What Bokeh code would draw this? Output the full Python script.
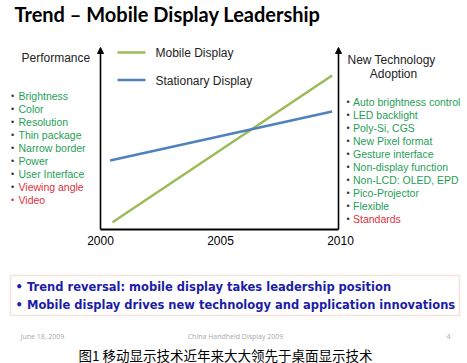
from bokeh.plotting import figure
from bokeh.models import Range1d, Label, Arrow, NormalHead, BoxAnnotation
from bokeh.core.properties import value
from bokeh.embed import file_html
from bokeh.resources import INLINE

# ---- data ----
years = [2000, 2005, 2010]
mobile_x = [2000.5, 2009.65]
mobile_y = [0.4, 8.56]
stationary_x = [2000.4, 2009.65]
stationary_y = [3.83, 6.56]
left_items = ["Brightness", "Color", "Resolution", "Thin package", "Narrow border",
              "Power", "User Interface", "Viewing angle", "Video"]
left_colors = ["green"] * 7 + ["red"] * 2
right_items = ["Auto brightness control", "LED backlight", "Poly-Si, CGS",
               "New Pixel format", "Gesture interface", "Non-display function",
               "Non-LCD: OLED, EPD", "Pico-Projector", "Flexible", "Standards"]
right_colors = ["green"] * 9 + ["red"]
title = "Trend \u2013 Mobile Display Leadership"
notes = ["Trend reversal: mobile display takes leadership position",
         "Mobile display drives new technology and application innovations"]
caption = "图1 移动显示技术近年来大大领先于桌面显示技术"

GREEN_LINE = "#9bbb59"
BLUE_LINE = "#4f81bd"
GREEN_TXT = "#1f9e57"
RED_TXT = "#e03040"
PAL = {"green": GREEN_TXT, "red": RED_TXT}

W, H = 467, 363
PX_PER_YEAR = 24.0
PX_PER_UNIT = 18.0
X0_PX = 100   # canvas x of year 2000
Y0_PX = 229   # canvas y (from top) of value 0

x_start = 2000 - X0_PX / PX_PER_YEAR
x_end = x_start + W / PX_PER_YEAR
y_end = Y0_PX / PX_PER_UNIT
y_start = y_end - H / PX_PER_UNIT


def fx(rx):
    return x_start + rx / PX_PER_YEAR


def fy(ry):
    return y_end - ry / PX_PER_UNIT


p = figure(width=W, height=H, output_backend="svg", toolbar_location=None,
           x_range=Range1d(x_start, x_end), y_range=Range1d(y_start, y_end),
           min_border=0, min_border_left=0, min_border_right=0,
           min_border_top=0, min_border_bottom=0)
p.axis.visible = False
p.grid.visible = False
p.outline_line_color = None
p.background_fill_color = "white"
p.border_fill_color = "white"

ARIAL = "Liberation Sans"


def label(rx, ry, text, size, color="black", font=ARIAL, style="normal",
          align="left", baseline="middle"):
    p.add_layout(Label(x=fx(rx), y=fy(ry), text=text, text_font=font,
                       text_font_size=f"{size}px", text_color=color,
                       text_font_style=style, text_align=align,
                       text_baseline=baseline))


# title
label(14, 13, title, 20, font="Lato", style="bold")

# axes with arrows
axis_bottom = fy(229)
p.segment(x0=[fx(100)], y0=[axis_bottom], x1=[fx(338)], y1=[axis_bottom],
          line_color="black", line_width=2)
for ax in [100, 338]:
    p.add_layout(Arrow(end=NormalHead(size=6, fill_color="black", line_color="black"),
                       x_start=fx(ax), y_start=axis_bottom, x_end=fx(ax), y_end=fy(47),
                       line_color="black", line_width=1.6))

# year labels
p.text(x=years, y=[fy(240)] * len(years), text=[str(y) for y in years],
       text_font=value(ARIAL), text_font_size="12px", text_align="center",
       text_baseline="middle", text_color="black")

# lines
p.line(mobile_x, mobile_y, line_color=GREEN_LINE, line_width=2.5)
p.line(stationary_x, stationary_y, line_color=BLUE_LINE, line_width=2.5)

# legend
p.segment(x0=[fx(117)], y0=[fy(52)], x1=[fx(145)], y1=[fy(52)],
          line_color=GREEN_LINE, line_width=2.5)
p.segment(x0=[fx(117)], y0=[fy(79.5)], x1=[fx(145)], y1=[fy(79.5)],
          line_color=BLUE_LINE, line_width=2.5)
label(155, 52, "Mobile Display", 12, color="#222222")
label(155, 80, "Stationary Display", 12, color="#222222")

# left side
label(21, 57, "Performance", 12, color="#222222")
for i, (t, c) in enumerate(zip(left_items, left_colors)):
    yy = 95 + 13 * i
    label(10.5, yy, "\u2022", 9, color="#333333" if i < 8 else RED_TXT)
    label(18, yy, t, 10.5, color=PAL[c])

# right side
label(391, 59, "New Technology", 12, color="#222222", align="center")
label(393, 73, "Adoption", 12, color="#222222", align="center")
for i, (t, c) in enumerate(zip(right_items, right_colors)):
    yy = 101 + 13.05 * i
    label(346, yy, "\u2022", 9, color="#333333")
    label(352.5, yy, t, 10.5, color=PAL[c])

# notes box
p.add_layout(BoxAnnotation(left=fx(10), right=fx(459), top=fy(275), bottom=fy(315),
                           fill_color=None, line_color="#e2a08c", line_width=1.5))
for i, t in enumerate(notes):
    yy = 286.5 + 17.7 * i
    label(15, yy, "\u2022", 11.5, color="#1c1ca8", font="DejaVu Sans", style="bold")
    label(26.5, yy, t, 11.5, color="#1c1ca8", font="DejaVu Sans", style="bold")

# footer
label(20, 336, "June 18, 2009", 7, color="#a8a8a8", font="Open Sans")
label(235, 336, "China Handheld Display 2009", 7, color="#a8a8a8", font="Open Sans", align="center")
label(448, 336, "4", 7, color="#a8a8a8", font="Open Sans", align="center")

# caption
label(78, 354, caption, 13.5, color="black", font="Noto Sans CJK SC")

open("out.html", "w").write(file_html(p, INLINE))
